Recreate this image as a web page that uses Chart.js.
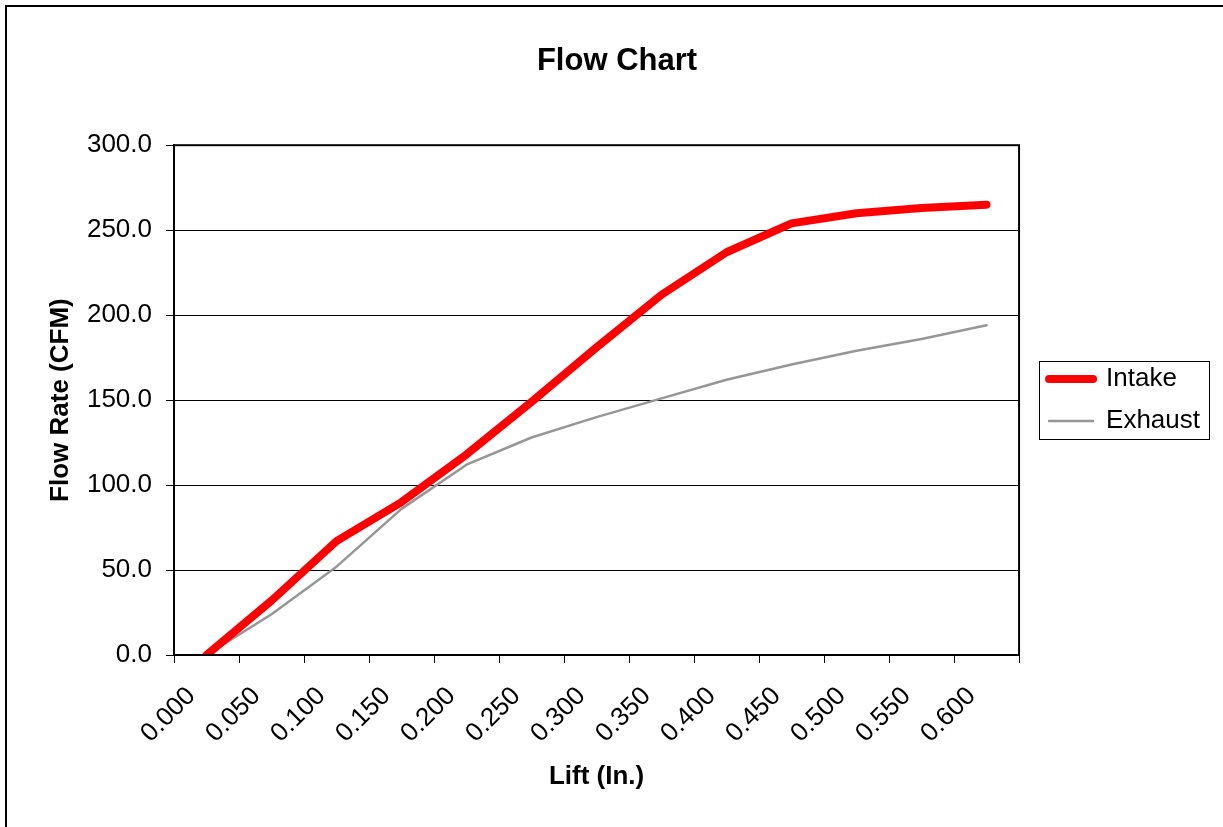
<!DOCTYPE html>
<html>
<head>
<meta charset="utf-8">
<title>Flow Chart</title>
<script src="https://cdn.jsdelivr.net/npm/chart.js@4.4.1/dist/chart.umd.min.js"></script>
<style>
    html, body {
        margin: 0;
        padding: 0;
        background: #ffffff;
        overflow: hidden;
    }
    #frame {
        position: absolute;
        left: 5px;
        top: 5px;
        width: 1400px;
        height: 1000px;
        border: 2px solid #000000;
    }
    #flowChart {
        position: absolute;
        left: 0;
        top: 0;
    }
</style>
</head>
<body>
<div id="frame"></div>
<canvas id="flowChart" width="1223" height="827"></canvas>

<script>
// -----------------------------
// DATA
// -----------------------------
const liftLabels = [
    "0.000", "0.050", "0.100", "0.150", "0.200", "0.250", "0.300",
    "0.350", "0.400", "0.450", "0.500", "0.550", "0.600"
];

const intakeFlow = [0, 32, 67, 90, 118, 149, 181, 212, 237, 254, 260, 263, 265];
const exhaustFlow = [0, 24, 52, 86, 112, 128, 140, 151, 162, 171, 179, 186, 194];

const flowTicks = [0, 50, 100, 150, 200, 250, 300];

const FONT = "'Liberation Sans', Arial, sans-serif";

// -----------------------------
// PLOT FRAME + LEGEND BOX
// -----------------------------
const frameBoxes = {
    id: "frameBoxes",
    afterDraw(chart) {
        const ctx = chart.ctx;
        const a = chart.chartArea;

        ctx.save();
        ctx.strokeStyle = "#000000";
        ctx.lineWidth = 2;
        ctx.strokeRect(a.left, a.top, a.right - a.left, a.bottom - a.top);

        const lg = chart.legend;
        const hb = lg && lg.legendHitBoxes;
        if (hb && hb.length) {
            const first = hb[0];
            const last = hb[hb.length - 1];
            const right = Math.max(...hb.map(h => h.left + h.width));
            ctx.lineWidth = 1;
            ctx.strokeRect(
                Math.round(first.left - 10) + 0.5,
                Math.round(first.top - 5) + 0.5,
                Math.round(right - first.left + 19),
                Math.round(last.top + last.height - first.top + 10)
            );
        }
        ctx.restore();
    }
};

const ctx = document.getElementById("flowChart").getContext("2d");

new Chart(ctx, {
    type: "line",
    data: {
        labels: liftLabels,
        datasets: [
            {
                label: "Intake",
                data: intakeFlow,
                borderColor: "#ff0000",
                backgroundColor: "#ff0000",
                borderWidth: 8,
                borderCapStyle: "round",
                borderJoinStyle: "round",
                pointRadius: 0,
                tension: 0
            },
            {
                label: "Exhaust",
                data: exhaustFlow,
                borderColor: "#969696",
                backgroundColor: "#969696",
                borderWidth: 2.5,
                borderCapStyle: "round",
                borderJoinStyle: "round",
                pointRadius: 0,
                tension: 0
            }
        ]
    },
    options: {
        responsive: false,
        animation: false,
        devicePixelRatio: 1,
        layout: {
            padding: { left: 24, right: 13, top: 0, bottom: 35 }
        },
        plugins: {
            title: {
                display: true,
                text: "Flow Chart",
                color: "#000000",
                font: { family: FONT, size: 31, weight: "bold" },
                padding: { top: 43, bottom: 65 }
            },
            legend: {
                position: "right",
                fullSize: false,
                labels: {
                    color: "#000000",
                    font: { family: FONT, size: 26 },
                    usePointStyle: true,
                    pointStyle: "line",
                    pointStyleWidth: 44,
                    padding: 16,
                    generateLabels(chart) {
                        const items = Chart.defaults.plugins.legend.labels.generateLabels(chart);
                        return items.map(item => ({ ...item, lineCap: "round" }));
                    }
                }
            },
            tooltip: { enabled: false }
        },
        scales: {
            x: {
                type: "category",
                offset: true,
                afterFit(s) { s.height = 137; },
                grid: {
                    offset: true,
                    drawOnChartArea: false,
                    drawTicks: true,
                    tickLength: 8,
                    color: "#000000"
                },
                border: { display: true, color: "#000000", width: 2 },
                ticks: {
                    autoSkip: false,
                    minRotation: 45,
                    maxRotation: 45,
                    labelOffset: -15,
                    padding: 18,
                    color: "#000000",
                    font: { family: FONT, size: 26 }
                },
                title: {
                    display: true,
                    text: "Lift (In.)",
                    color: "#000000",
                    font: { family: FONT, size: 26, weight: "bold" },
                    padding: { top: 0, bottom: 0 }
                }
            },
            y: {
                min: 0,
                max: 300,
                afterFit(s) { s.width = 150; },
                afterBuildTicks(s) {
                    s.ticks = flowTicks.map(v => ({ value: v }));
                },
                grid: {
                    color: "#000000",
                    lineWidth: 1,
                    drawTicks: true,
                    tickLength: 8
                },
                border: { display: true, color: "#000000", width: 2 },
                ticks: {
                    padding: 14,
                    color: "#000000",
                    font: { family: FONT, size: 26 },
                    callback: v => Number(v).toFixed(1)
                },
                title: {
                    display: true,
                    text: "Flow Rate (CFM)",
                    color: "#000000",
                    font: { family: FONT, size: 26, weight: "bold" },
                    padding: { top: 21, bottom: 0 }
                }
            },
            // spacer between the plot and the legend
            gap: {
                type: "linear",
                position: "right",
                display: true,
                afterFit(s) { s.width = 14; },
                grid: { display: false },
                border: { display: false },
                ticks: { display: false }
            }
        }
    },
    plugins: [frameBoxes]
});
</script>
</body>
</html>
